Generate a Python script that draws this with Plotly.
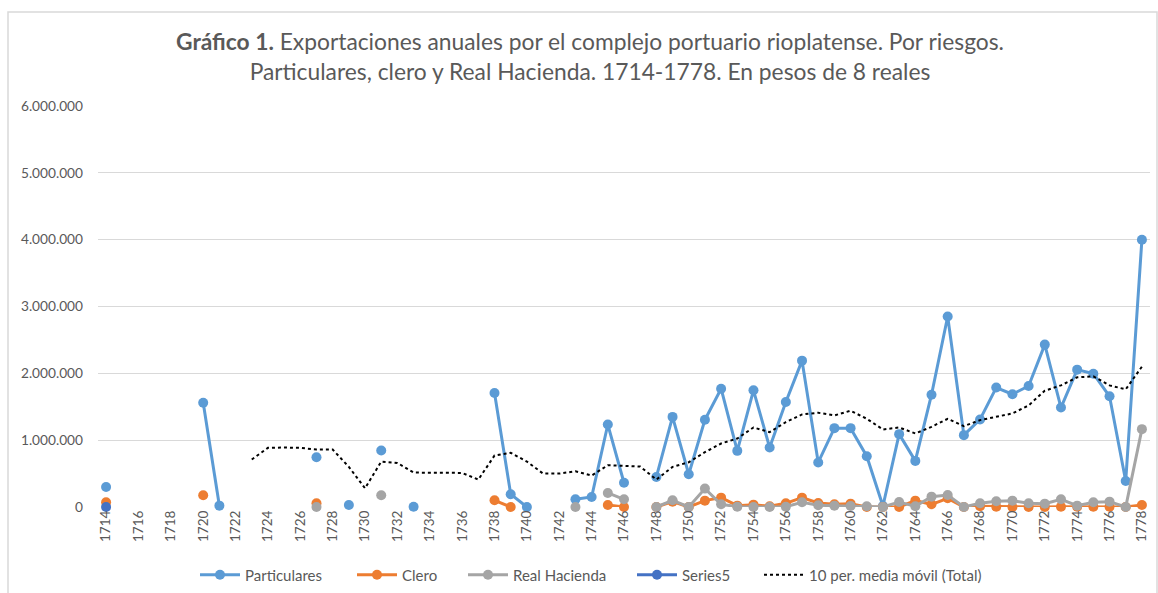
import plotly.graph_objects as go

years = list(range(1714, 1779))

particulares = (
    [300000, None, None, None, None, None, 1560000, 20000, None, None]          # 1714-1723
    + [None, None, None, 745000, None, 30000, None, 846000, None, 5000]         # 1724-1733
    + [None, None, None, None, 1706000, 190000, 0, None, None, 115000]          # 1734-1743
    + [150000, 1234000, 363000, None, 450000, 1348000, 490000, 1305000, 1770000, 840000]  # 1744-1753
    + [1746000, 890000, 1570000, 2190000, 667000, 1180000, 1180000, 760000, 15000, 1090000]  # 1754-1763
    + [690000, 1680000, 2850000, 1075000, 1310000, 1787000, 1687000, 1810000, 2430000, 1488000]  # 1764-1773
    + [2055000, 1995000, 1657000, 390000, 4000000]                               # 1774-1778
)

clero = (
    [70000, None, None, None, None, None, 175000, None, None, None]
    + [None, None, None, 55000, None, None, None, None, None, None]
    + [None, None, None, None, 100000, 0, None, None, None, None]
    + [None, 30000, 0, None, 0, 80000, 0, 95000, 140000, 20000]
    + [35000, 10000, 55000, 140000, 60000, 40000, 50000, 0, 0, 0]
    + [95000, 40000, 130000, 0, 10000, 5000, 0, 0, 0, 5000]
    + [5000, 5000, 5000, 0, 30000]
)

real_hacienda = (
    [None, None, None, None, None, None, None, None, None, None]
    + [None, None, None, 0, None, None, None, 175000, None, None]
    + [None, None, None, None, None, None, None, None, None, 0]
    + [None, 210000, 115000, None, 0, 100000, 0, 275000, 40000, 5000]
    + [0, 0, 5000, 70000, 25000, 20000, 15000, 10000, 0, 75000]
    + [10000, 155000, 180000, 0, 55000, 85000, 95000, 55000, 50000, 115000]
    + [20000, 70000, 80000, 0, 1165000]
)

series5 = [0] + [None] * 64

media_movil = (
    [None, None, None, None, None, None, None, None, None, 710000]
    + [885000, 890000, 885000, 860000, 860000, 600000, 280000, 680000, 660000, 515000]
    + [515000, 515000, 510000, 410000, 770000, 810000, 680000, 500000, 500000, 535000]
    + [470000, 625000, 610000, 605000, 410000, 600000, 670000, 820000, 950000, 1025000]
    + [1190000, 1120000, 1270000, 1385000, 1410000, 1370000, 1440000, 1320000, 1160000, 1190000]
    + [1100000, 1200000, 1320000, 1210000, 1300000, 1350000, 1400000, 1520000, 1740000, 1820000]
    + [1940000, 1955000, 1820000, 1760000, 2100000]
)

y_ticks = [0, 1000000, 2000000, 3000000, 4000000, 5000000, 6000000]
y_tick_labels = ["0", "1.000.000", "2.000.000", "3.000.000", "4.000.000", "5.000.000", "6.000.000"]
x_ticks = list(range(1714, 1779, 2))

# (name, values, colour, legend id, legend left edge in px)
series = [
    ("Particulares", particulares, "#5B9BD5", "legend", 195),
    ("Clero", clero, "#ED7D31", "legend2", 352),
    ("Real Hacienda", real_hacienda, "#A5A5A5", "legend3", 463),
    ("Series5", series5, "#4472C4", "legend4", 632),
]
ma_legend_px = 759

PLOT_L, PLOT_W = 98, 1052
font_family = "Lato, 'Open Sans', sans-serif"
tick_color = "#595959"
legend_font = dict(size=15, color=tick_color)

fig = go.Figure()
for name, vals, color, leg, _ in series:
    fig.add_trace(go.Scatter(
        x=years, y=vals, name=name, mode="lines+markers",
        line=dict(color=color, width=3),
        marker=dict(color=color, size=10),
        connectgaps=False, cliponaxis=False, legend=leg,
    ))

fig.add_trace(go.Scatter(
    x=years, y=media_movil, name="10 per. media móvil (Total)", mode="lines",
    line=dict(color="#000000", width=2, dash="dot"),
    connectgaps=False, legend="legend5",
))

legend_px = [s[4] for s in series] + [ma_legend_px]
legend_ids = ["legend", "legend2", "legend3", "legend4", "legend5"]
legend_cfg = {}
for lid, px in zip(legend_ids, legend_px):
    legend_cfg[lid] = dict(
        orientation="h", x=(px - PLOT_L) / PLOT_W, xanchor="left",
        y=(507 - 575) / 401, yanchor="middle",
        font=legend_font, bgcolor="rgba(0,0,0,0)", itemwidth=40,
    )

fig.update_layout(
    width=1158, height=593,
    margin=dict(l=98, r=8, t=106, b=86, autoexpand=False),
    paper_bgcolor="white", plot_bgcolor="white",
    font=dict(family=font_family, color=tick_color, size=13),
    title=dict(
        text="<b>Gráfico 1.</b> Exportaciones anuales por el complejo portuario rioplatense. Por riesgos.<br>"
             "Particulares, clero y Real Hacienda. 1714-1778. En pesos de 8 reales",
        x=590 / 1158, xanchor="center", xref="container",
        y=1 - 50 / 593, yanchor="top", yref="container",
        font=dict(family=font_family, size=22.8, color="#595959"),
    ),
    xaxis=dict(
        range=[1713.5, 1778.5], automargin=False,
        tickmode="array", tickvals=x_ticks, ticktext=[str(v) for v in x_ticks],
        tickangle=-90, showgrid=False, zeroline=False,
        showline=False, ticks="",
        tickfont=dict(size=13.5, color=tick_color),
    ),
    yaxis=dict(
        range=[0, 6000000], automargin=False,
        tickmode="array", tickvals=y_ticks, ticktext=y_tick_labels,
        showgrid=True, gridcolor="#D9D9D9", gridwidth=1,
        zeroline=False, showline=False, ticks="",
        ticklabelstandoff=14,
        tickfont=dict(size=13.7, color=tick_color),
    ),
    showlegend=True,
    **legend_cfg,
)

fig.add_shape(
    type="rect", xref="paper", yref="paper",
    x0=(8 - 98) / 1052, x1=(1157 - 98) / 1052,
    y0=(507 - 600) / 401, y1=(507 - 12) / 401,
    line=dict(color="#D9D9D9", width=1.5), fillcolor="rgba(0,0,0,0)", layer="below",
)

fig.write_html(
    "out.html",
    config={"displayModeBar": False},
    post_script="document.body.style.margin='0';document.body.style.overflow='hidden';",
)
